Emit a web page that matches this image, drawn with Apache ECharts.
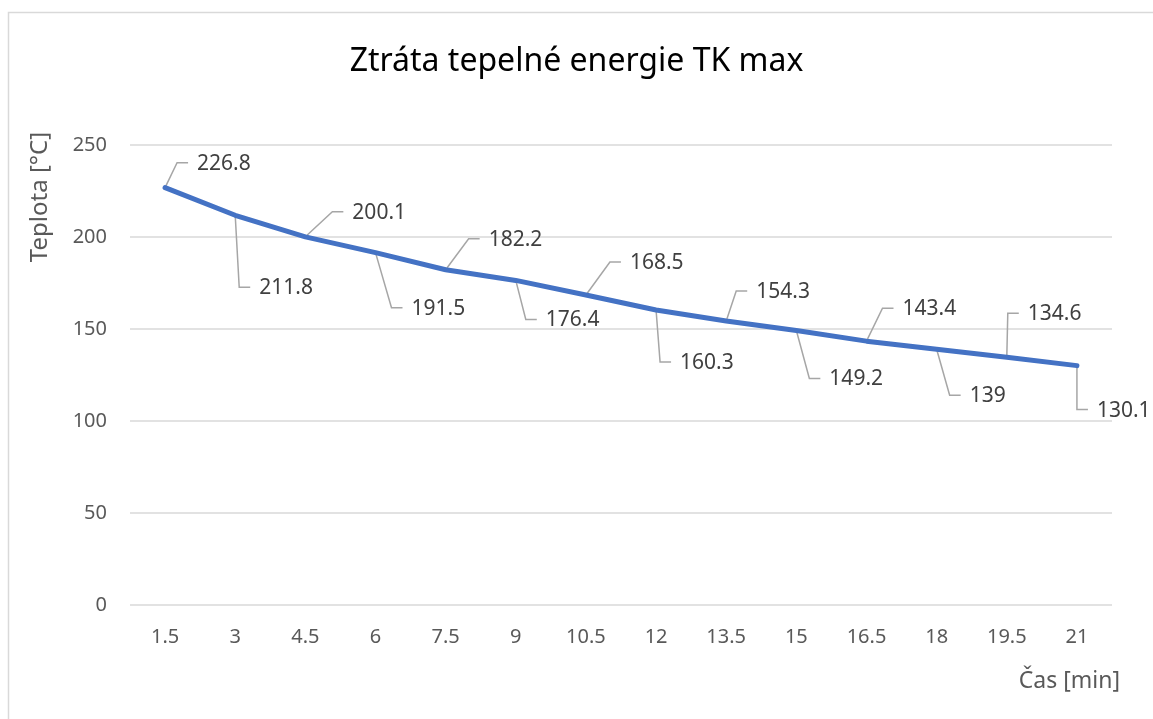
<!DOCTYPE html>
<html>
<head>
<meta charset="utf-8">
<title>Ztráta tepelné energie TK max</title>
<script src="https://cdn.jsdelivr.net/npm/echarts@6/dist/echarts.min.js"></script>
<style>
  html, body { margin: 0; padding: 0; background: #fff; }
  #main { width: 1153px; height: 719px; }
</style>
</head>
<body>
<div id="main"></div>
<script>
// data
var casMin = ['1.5', '3', '4.5', '6', '7.5', '9', '10.5', '12', '13.5', '15', '16.5', '18', '19.5', '21'];
var teplota = [226.8, 211.8, 200.1, 191.5, 182.2, 176.4, 168.5, 160.3, 154.3, 149.2, 143.4, 139, 134.6, 130.1];
var yTicks = [0, 50, 100, 150, 200, 250];

// posun zalomeni odkazove cary od bodu [dx, dy] (px)
var labelOffsets = [
    [12, -25], [4, 72], [27, -25], [16, 55], [23, -31], [10, 39], [24, -33],
    [4, 52], [10, -30], [13, 48], [16, -33], [13, 46], [1, -44], [0, 44]
];

var FONT = '"Noto Sans", "Open Sans", sans-serif';

var seriesData = teplota.map(function (v, i) { return [i, v]; });

// popisky dat s odkazovou carou
function renderLabel(params, api) {
    var pt = api.coord([api.value(0), api.value(1)]);
    var off = labelOffsets[params.dataIndex];
    var ex = pt[0] + off[0];
    var ey = pt[1] + off[1];
    return {
        type: 'group',
        children: [
            {
                type: 'polyline',
                shape: { points: [pt, [ex, ey], [ex + 11, ey]] },
                style: { stroke: '#a6a6a6', lineWidth: 1.5, fill: null }
            },
            {
                type: 'text',
                style: {
                    text: String(teplota[params.dataIndex]),
                    x: ex + 20,
                    y: ey + 1,
                    verticalAlign: 'middle',
                    fill: '#404040',
                    font: '21px ' + FONT
                }
            }
        ]
    };
}

var chart = echarts.init(document.getElementById('main'));

var option = {
    backgroundColor: '#fff',
    animation: false,
    title: {
        text: 'Ztráta tepelné energie TK max',
        left: 'center',
        top: 41,
        textStyle: { fontFamily: FONT, fontSize: 32, fontWeight: 'normal', color: '#000' }
    },
    grid: { left: 130, right: 41, top: 145, bottom: 114 },
    xAxis: {
        type: 'category',
        data: casMin,
        boundaryGap: true,
        axisLine: { show: false },
        axisTick: { show: false },
        axisLabel: { margin: 22, color: '#595959', fontFamily: FONT, fontSize: 20 }
    },
    yAxis: {
        type: 'value',
        min: yTicks[0],
        max: yTicks[yTicks.length - 1],
        interval: 50,
        axisLine: { show: false },
        axisTick: { show: false },
        splitLine: { lineStyle: { color: '#d9d9d9', width: 1.5 } },
        axisLabel: { margin: 23, color: '#595959', fontFamily: FONT, fontSize: 20 }
    },
    graphic: [
        {
            type: 'rect',
            shape: { x: 8.5, y: 12.5, width: 1300, height: 900 },
            style: { fill: null, stroke: '#d9d9d9', lineWidth: 1.5 },
            silent: true,
            z: -10
        },
        {
            type: 'text',
            x: 40,
            y: 197,
            rotation: Math.PI / 2,
            style: {
                text: 'Teplota [°C]',
                align: 'center',
                verticalAlign: 'middle',
                fill: '#595959',
                font: '24px ' + FONT
            }
        },
        {
            type: 'text',
            x: 1120,
            y: 681,
            style: {
                text: 'Čas [min]',
                align: 'right',
                verticalAlign: 'middle',
                fill: '#595959',
                font: '23px ' + FONT
            }
        }
    ],
    series: [
        {
            name: 'Teplota',
            type: 'line',
            data: seriesData,
            showSymbol: false,
            symbol: 'none',
            lineStyle: { color: '#4472c4', width: 5, cap: 'round' },
            z: 3
        },
        {
            name: 'Popisky',
            type: 'custom',
            data: seriesData,
            encode: { x: 0, y: 1 },
            renderItem: renderLabel,
            silent: true,
            z: 2
        }
    ]
};

chart.setOption(option);
</script>
</body>
</html>
